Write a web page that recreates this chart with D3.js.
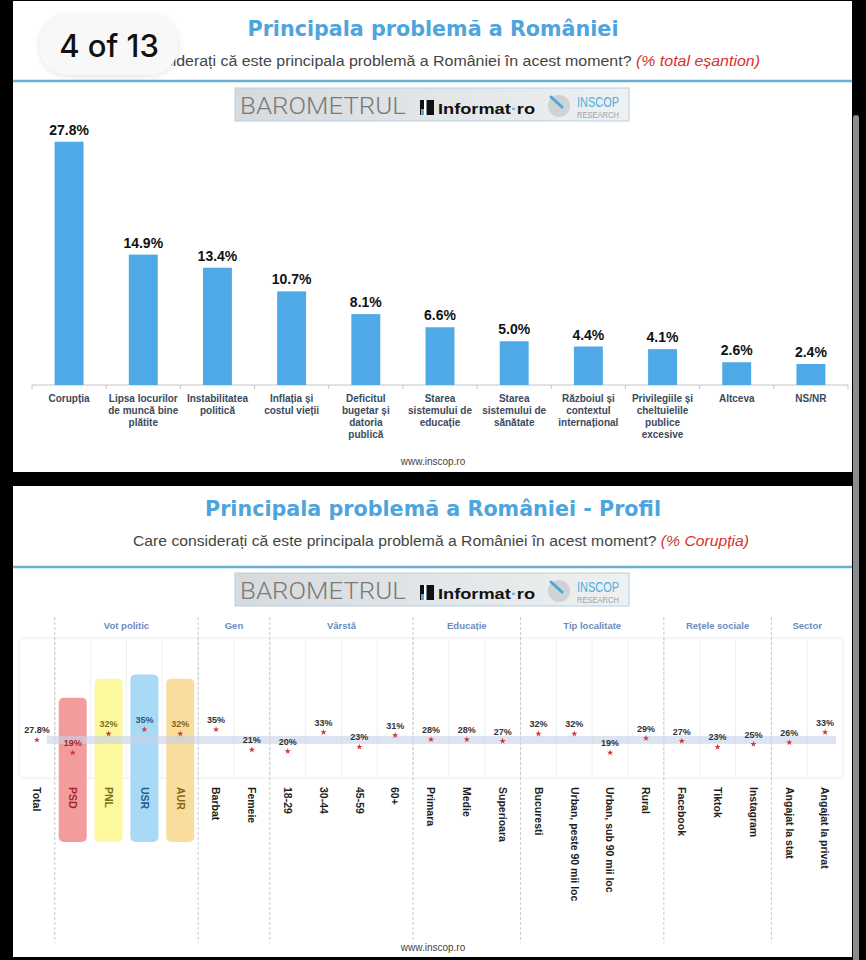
<!DOCTYPE html>
<html><head><meta charset="utf-8">
<script src="https://cdn.jsdelivr.net/npm/d3@7"></script>
<style>html,body{margin:0;padding:0;background:#000;} svg{display:block;}</style>
</head><body>
<script>
// ---------- DATA: top chart ----------
const categories = [
  "Corupția",
  "Lipsa locurilor\nde muncă bine\nplătite",
  "Instabilitatea\npolitică",
  "Inflația și\ncostul vieții",
  "Deficitul\nbugetar și\ndatoria\npublică",
  "Starea\nsistemului de\neducație",
  "Starea\nsistemului de\nsănătate",
  "Războiul și\ncontextul\ninternațional",
  "Privilegiile și\ncheltuielile\npublice\nexcesive",
  "Altceva",
  "NS/NR"
];
const values = [27.8, 14.9, 13.4, 10.7, 8.1, 6.6, 5.0, 4.4, 4.1, 2.6, 2.4];
const valueLabels = ["27.8%", "14.9%", "13.4%", "10.7%", "8.1%", "6.6%", "5.0%", "4.4%", "4.1%", "2.6%", "2.4%"];

// ---------- DATA: profile chart ----------
const profileCategories = ["Total", "PSD", "PNL", "USR", "AUR", "Barbat", "Femeie", "18-29", "30-44", "45-59", "60+",
  "Primara", "Medie", "Superioara", "Bucuresti", "Urban, peste 90 mii loc", "Urban, sub 90 mii loc", "Rural",
  "Facebook", "Tiktok", "Instagram", "Angajat la stat", "Angajat la privat"];
const profileValues = [27.8, 19, 32, 35, 32, 35, 21, 20, 33, 23, 31, 28, 28, 27, 32, 32, 19, 29, 27, 23, 25, 26, 33];
const profileLabels = ["27.8%", "19%", "32%", "35%", "32%", "35%", "21%", "20%", "33%", "23%", "31%", "28%", "28%", "27%",
  "32%", "32%", "19%", "29%", "27%", "23%", "25%", "26%", "33%"];
const groupNames = ["Vot politic", "Gen", "Vârstă", "Educație", "Tip localitate", "Rețele sociale", "Sector"];
const groupFirst = ["PSD", "Barbat", "18-29", "Primara", "Bucuresti", "Facebook", "Angajat la stat"];
const groupLast = ["AUR", "Femeie", "60+", "Superioara", "Rural", "Instagram", "Angajat la privat"];
const totalValue = 27.8;
const partyNames = ["PSD", "PNL", "USR", "AUR"];
const partyFill = ["#f29d9c", "#fcf89e", "#a9daf5", "#f8dd9d"];
const partyInk = ["#a3262a", "#77701c", "#1d5a8c", "#8a6418"];

// ---------- SVG ----------
const W = 866, H = 960;
const svg = d3.select("body").append("svg").attr("width", W).attr("height", H);
const defs = svg.append("defs");
const lg = defs.append("linearGradient").attr("id", "logoGrad").attr("x1", "0").attr("x2", "1").attr("y1", "0").attr("y2", "0");
lg.append("stop").attr("offset", "0").attr("stop-color", "#d7dadd");
lg.append("stop").attr("offset", "1").attr("stop-color", "#eef0f1");
const sh = defs.append("filter").attr("id", "shadow").attr("x", "-20%").attr("y", "-30%").attr("width", "140%").attr("height", "160%");
sh.append("feDropShadow").attr("dx", 0).attr("dy", 1).attr("stdDeviation", 3).attr("flood-color", "#000").attr("flood-opacity", 0.12);

svg.append("rect").attr("width", W).attr("height", H).attr("fill", "#000");
svg.append("rect").attr("x", 13).attr("y", 1).attr("width", 839).attr("height", 471).attr("fill", "#fff");
svg.append("rect").attr("x", 13).attr("y", 486).attr("width", 839).attr("height", 471).attr("fill", "#fff");
svg.append("rect").attr("x", 853).attr("y", 115).attr("width", 6).attr("height", 850).attr("rx", 3).attr("fill", "#8d8d8d");

const FONT = "'Liberation Sans', Arial, sans-serif";
const TITLE_FONT = "'DejaVu Sans', Verdana, sans-serif";

function drawLogo(ly) {
  const g = svg.append("g").attr("transform", `translate(235,${ly})`);
  g.append("rect").attr("width", 394).attr("height", 33).attr("fill", "url(#logoGrad)").attr("stroke", "#b5cfe2").attr("stroke-width", 1);
  g.append("text").attr("x", 5).attr("y", 26).attr("font-family", "Roboto, 'Liberation Sans', sans-serif").attr("font-weight", 300)
    .attr("font-size", 24).attr("fill", "#7a7a7a").attr("textLength", 166).attr("lengthAdjust", "spacingAndGlyphs").text("BAROMETRUL");
  g.append("rect").attr("x", 185).attr("y", 12).attr("width", 14).attr("height", 15).attr("fill", "#111");
  g.append("rect").attr("x", 189).attr("y", 12).attr("width", 2.5).attr("height", 15).attr("fill", "#fff");
  g.append("rect").attr("x", 186).attr("y", 21).attr("width", 3).attr("height", 6).attr("fill", "#4fb0e0");
  const t = g.append("text").attr("x", 203).attr("y", 26).attr("font-family", FONT).attr("font-weight", "bold")
    .attr("font-size", 15).attr("fill", "#111").attr("textLength", 97).attr("lengthAdjust", "spacingAndGlyphs");
  t.append("tspan").text("Informat");
  t.append("tspan").attr("fill", "#5ab4e0").text("·");
  t.append("tspan").text("ro");
  g.append("circle").attr("cx", 324).attr("cy", 18).attr("r", 11).attr("fill", "#cfd3d6");
  g.append("line").attr("x1", 316).attr("y1", 9).attr("x2", 327).attr("y2", 19).attr("stroke", "#4aa8d8").attr("stroke-width", 3).attr("stroke-linecap", "round");
  g.append("text").attr("x", 342).attr("y", 18.5).attr("font-family", FONT).attr("font-size", 14).attr("fill", "#4db0de")
    .attr("textLength", 42).attr("lengthAdjust", "spacingAndGlyphs").text("INSCOP");
  g.append("text").attr("x", 342).attr("y", 29.5).attr("font-family", FONT).attr("font-size", 8.5).attr("fill", "#a2a2a2")
    .attr("textLength", 42).attr("lengthAdjust", "spacingAndGlyphs").text("RESEARCH");
}

function drawHeader(dy, title, titleLen, redPart, subAnchor, subX, subLen, lineY, logoY) {
  svg.append("text").attr("x", 433).attr("y", 36 + dy).attr("text-anchor", "middle").attr("font-family", TITLE_FONT)
    .attr("font-weight", "bold").attr("font-size", 20.5).attr("fill", "#4ea5dd")
    .attr("textLength", titleLen).attr("lengthAdjust", "spacingAndGlyphs").text(title);
  const s = svg.append("text").attr("x", subX).attr("y", 66 + dy).attr("text-anchor", subAnchor).attr("font-family", FONT)
    .attr("font-size", 14).attr("fill", "#454545").attr("textLength", subLen).attr("lengthAdjust", "spacingAndGlyphs");
  s.append("tspan").text("Care considerați că este principala problemă a României în acest moment? ");
  s.append("tspan").attr("fill", "#d8302c").attr("font-style", "italic").text(redPart);
  svg.append("line").attr("x1", 13).attr("x2", 852).attr("y1", lineY).attr("y2", lineY).attr("stroke", "#68b2d0").attr("stroke-width", 2.5);
  drawLogo(logoY);
}

// ---------- TOP PANEL ----------
drawHeader(0, "Principala problemă a României", 371, "(% total eșantion)", "end", 760, 660, 81, 88);

const xb = d3.scaleBand().domain(categories).range([32, 848]);
const yb = d3.scaleLinear().domain([0, 30]).range([385, 122.5]);
const barW = xb.bandwidth() * 0.39;
const topG = svg.append("g");
topG.append("line").attr("x1", xb.range()[0]).attr("x2", xb.range()[1]).attr("y1", yb(0)).attr("y2", yb(0)).attr("stroke", "#c6c6c6").attr("stroke-width", 1.2);
topG.selectAll("line.tk").data(categories.concat([null])).join("line")
  .attr("x1", (d, i) => xb.range()[0] + xb.step() * i).attr("x2", (d, i) => xb.range()[0] + xb.step() * i)
  .attr("y1", yb(0)).attr("y2", yb(0) + 4).attr("stroke", "#c6c6c6");
topG.selectAll("rect.bar").data(values).join("rect")
  .attr("x", (d, i) => xb(categories[i]) + xb.bandwidth() / 2 - barW / 2)
  .attr("y", d => yb(d)).attr("width", barW).attr("height", d => yb(0) - yb(d)).attr("fill", "#4fa9e6");
topG.selectAll("text.val").data(values).join("text")
  .attr("x", (d, i) => xb(categories[i]) + xb.bandwidth() / 2).attr("y", d => yb(d) - 7)
  .attr("text-anchor", "middle").attr("font-family", FONT).attr("font-weight", "bold").attr("font-size", 14).attr("fill", "#111")
  .text((d, i) => valueLabels[i]);
const cl = topG.selectAll("text.cat").data(categories).join("text")
  .attr("text-anchor", "middle").attr("font-family", FONT).attr("font-weight", "bold").attr("font-size", 10).attr("fill", "#3b4a5c");
cl.each(function (d) {
  const cx = xb(d) + xb.bandwidth() / 2;
  d.split("\n").forEach((ln, j) => {
    d3.select(this).append("tspan").attr("x", cx).attr("y", yb(0) + 17 + j * 12).text(ln);
  });
});
svg.append("text").attr("x", 433).attr("y", 465).attr("text-anchor", "middle").attr("font-family", FONT).attr("font-size", 10).attr("fill", "#444").text("www.inscop.ro");

// badge
svg.append("rect").attr("x", 40).attr("y", 15).attr("width", 138).attr("height", 60).attr("rx", 28).attr("fill", "#f8f8f8").attr("filter", "url(#shadow)");
svg.append("text").attr("x", 109).attr("y", 57).attr("text-anchor", "middle").attr("font-family", "Inter, Roboto, sans-serif")
  .attr("font-weight", 500).attr("font-size", 31).attr("fill", "#111").text("4 of 13");

// ---------- BOTTOM PANEL ----------
drawHeader(480, "Principala problemă a României - Profil", 456, "(% Corupția)", "start", 133, 616, 567, 573);

const xp = d3.scaleBand().domain(profileCategories).range([19, 843]);
const yp = d3.scaleLinear().domain([0, 100]).range([780.5, 634.5]);
const cx = d => xp(d) + xp.bandwidth() / 2;
const plotTop = 638, plotBottom = 778;
const pg = svg.append("g");

pg.append("rect").attr("x", xp.range()[0]).attr("y", plotTop).attr("width", xp.range()[1] - xp.range()[0]).attr("height", plotBottom - plotTop)
  .attr("rx", 3).attr("fill", "none").attr("stroke", "#ececec");
pg.selectAll("line.col").data(profileCategories.slice(1)).join("line")
  .attr("x1", d => xp(d)).attr("x2", d => xp(d)).attr("y1", plotTop).attr("y2", plotBottom).attr("stroke", "#f0f0f0");

pg.selectAll("line.sep").data(groupFirst).join("line")
  .attr("x1", d => xp(d)).attr("x2", d => xp(d)).attr("y1", 617).attr("y2", 943)
  .attr("stroke", "#c9c9c9").attr("stroke-dasharray", "3,2");

pg.selectAll("text.grp").data(groupNames).join("text")
  .attr("x", (d, i) => (xp(groupFirst[i]) + xp(groupLast[i]) + xp.bandwidth()) / 2).attr("y", 629)
  .attr("text-anchor", "middle").attr("font-family", FONT).attr("font-weight", "bold").attr("font-size", 9.5).attr("fill", "#6b8cc0")
  .text(d => d);

pg.selectAll("rect.party").data(partyNames).join("rect")
  .attr("x", d => cx(d) - 14).attr("width", 28)
  .attr("y", d => yp(profileValues[profileCategories.indexOf(d)]) - 55)
  .attr("height", d => 842 - (yp(profileValues[profileCategories.indexOf(d)]) - 55))
  .attr("rx", 5).attr("fill", (d, i) => partyFill[i]);

pg.append("rect").attr("x", cx("Total") + 10).attr("width", cx(profileCategories[profileCategories.length - 1]) + 11 - (cx("Total") + 10))
  .attr("y", yp(totalValue) - 4).attr("height", 8).attr("fill", "#c6d1e8").attr("opacity", 0.6);

pg.selectAll("path.pt").data(profileValues).join("path")
  .attr("transform", (d, i) => `translate(${cx(profileCategories[i])},${yp(d)})`)
  .attr("d", d3.symbol(d3.symbolStar, 12)).attr("fill", "#d2373a");

pg.selectAll("text.pv").data(profileValues).join("text")
  .attr("x", (d, i) => cx(profileCategories[i])).attr("y", d => yp(d) - 6.5)
  .attr("text-anchor", "middle").attr("font-family", FONT).attr("font-weight", "bold").attr("font-size", 9)
  .attr("fill", (d, i) => { const k = partyNames.indexOf(profileCategories[i]); return k >= 0 ? partyInk[k] : "#333"; })
  .text((d, i) => profileLabels[i]);

pg.selectAll("text.pc").data(profileCategories).join("text")
  .attr("transform", d => `translate(${cx(d)},787) rotate(90)`).attr("dy", "0.35em")
  .attr("font-family", FONT).attr("font-weight", "bold").attr("font-size", 10.5)
  .attr("fill", d => { const k = partyNames.indexOf(d); return k >= 0 ? partyInk[k] : "#1e1e1e"; })
  .text(d => d);

svg.append("text").attr("x", 433).attr("y", 951).attr("text-anchor", "middle").attr("font-family", FONT).attr("font-size", 10).attr("fill", "#444").text("www.inscop.ro");
</script>
</body></html>
